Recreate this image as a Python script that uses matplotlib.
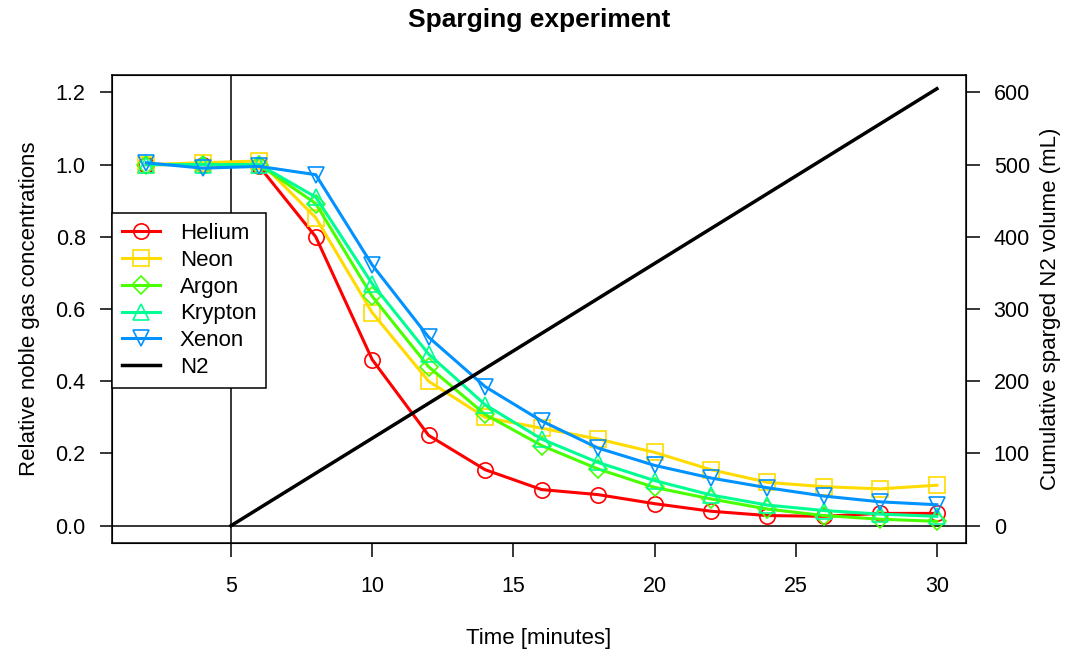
import matplotlib.pyplot as plt
import numpy as np

plt.rcParams['font.family'] = ['Liberation Sans', 'DejaVu Sans']

# sampling times (minutes)
time = [2, 4, 6, 8, 10, 12, 14, 16, 18, 20, 22, 24, 26, 28, 30]

helium = [1.0, 1.0, 0.995, 0.80, 0.46, 0.25, 0.155, 0.10, 0.086, 0.061, 0.04, 0.028, 0.026, 0.034, 0.034]
neon = [1.0, 1.005, 1.01, 0.853, 0.59, 0.40, 0.30, 0.27, 0.24, 0.203, 0.155, 0.12, 0.108, 0.102, 0.112]
argon = [1.0, 1.0, 1.0, 0.892, 0.635, 0.44, 0.308, 0.222, 0.157, 0.106, 0.074, 0.046, 0.028, 0.018, 0.012]
krypton = [1.0, 1.0, 1.0, 0.91, 0.67, 0.475, 0.335, 0.24, 0.175, 0.125, 0.085, 0.057, 0.042, 0.032, 0.026]
xenon = [1.005, 0.99, 0.995, 0.972, 0.722, 0.522, 0.385, 0.29, 0.215, 0.167, 0.132, 0.105, 0.082, 0.066, 0.058]

n2_time = [5, 10, 15, 20, 25, 30]
n2_volume = [0, 121, 242, 363, 484, 605]

gases = ['Helium', 'Neon', 'Argon', 'Krypton', 'Xenon']
series = [helium, neon, argon, krypton, xenon]
colors = ['#FF0000', '#FFDB00', '#49FF00', '#00FF92', '#0092FF']
markers = ['o', 's', 'D', '^', 'v']
msizes = [11, 11, 9, 12, 12]

fig = plt.figure(figsize=(10.65, 6.54), dpi=100)
ax = fig.add_axes([0.1052, 0.1697, 0.8018, 0.7156])

ax.axvline(5, color='black', lw=1.1, zorder=1)
ax.axhline(0, color='black', lw=1.1, zorder=1)

handles = []
for name, vals, c, m, ms in zip(gases, series, colors, markers, msizes):
    h, = ax.plot(time, vals, color=c, lw=2.2, marker=m, ms=ms,
                 mfc='none', mec=c, mew=1.2, label=name, zorder=3)
    handles.append(h)

ax.set_xlim(0.786, 31.03)
ax.set_ylim(-0.048, 1.248)
ax.set_xticks([5, 10, 15, 20, 25, 30])
ax.set_yticks(np.arange(0, 1.21, 0.2))
ax.set_yticklabels(['0.0', '0.2', '0.4', '0.6', '0.8', '1.0', '1.2'])
ax.tick_params(axis='x', direction='out', length=10, width=1.1, labelsize=15.5, pad=14)
ax.tick_params(axis='y', direction='out', length=9, width=1.1, labelsize=15.5, pad=10)
ax.set_xlabel('Time [minutes]', fontsize=16, va='center')
ax.xaxis.set_label_coords(0.5, -0.203)
ax.set_ylabel('Relative noble gas concentrations', fontsize=16, va='center')
ax.yaxis.set_label_coords(-0.097, 0.5)
ax.set_title('Sparging experiment', fontsize=19, fontweight='bold', va='center', y=1.1175, pad=0)
for sp in ax.spines.values():
    sp.set_linewidth(1.1)

ax2 = ax.twinx()
hn2, = ax2.plot(n2_time, n2_volume, color='black', lw=2.5, label='N2', zorder=4)
handles.append(hn2)
ax2.set_ylim(-24, 624)
ax2.set_yticks(np.arange(0, 601, 100))
ax2.tick_params(direction='out', length=10, width=1.1, labelsize=15.5, pad=10)
ax2.set_ylabel('Cumulative sparged N2 volume (mL)', fontsize=16, va='center')
ax2.yaxis.set_label_coords(1.0995, 0.5)

leg = ax2.legend(handles=handles, loc='upper left', bbox_to_anchor=(0, 0.705),
                 borderaxespad=0, fancybox=False, framealpha=1, edgecolor='black',
                 fontsize=16, handlelength=1.7, labelspacing=0.26, borderpad=0.45,
                 handletextpad=0.9)
leg.get_frame().set_linewidth(1.1)

fig.savefig('out.png', dpi=100)
